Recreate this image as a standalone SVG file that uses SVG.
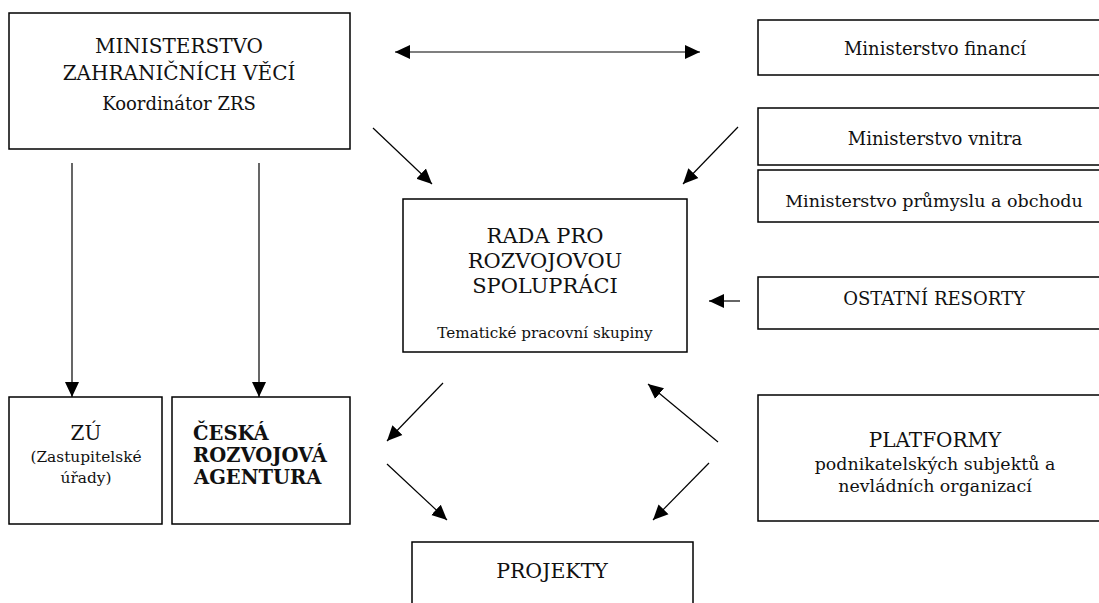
<svg xmlns="http://www.w3.org/2000/svg" width="1099" height="603" viewBox="0 0 1099 603">
<style>
.box{fill:#fff;stroke:#000;stroke-width:1.5}
.t{font-family:"DejaVu Serif","Liberation Serif",serif;fill:#111;text-anchor:middle}
.b{font-weight:bold}
.c{stroke:#000;stroke-width:1.2;fill:none}
</style>
<defs>
<marker id="ah" markerUnits="userSpaceOnUse" markerWidth="16" markerHeight="16" viewBox="0 0 16 16" refX="15" refY="8" orient="auto-start-reverse">
<path d="M0,1 L15,8 L0,15 Z" fill="#000"/>
</marker>
</defs>
<rect width="1099" height="603" fill="#fff"/>
<g id="mzv">
<rect class="box" x="9" y="13" width="341" height="136"/>
<text class="t" x="179" y="53" font-size="20">MINISTERSTVO</text>
<text class="t" x="179" y="80" font-size="20">ZAHRANIČNÍCH VĚCÍ</text>
<text class="t" x="179" y="110" font-size="18">Koordinátor ZRS</text>
</g>
<g id="mf">
<rect class="box" x="758" y="20" width="350" height="55"/>
<text class="t" x="935" y="55" font-size="18">Ministerstvo financí</text>
</g>
<g id="mv">
<rect class="box" x="758" y="108" width="350" height="57"/>
<text class="t" x="935" y="145" font-size="18">Ministerstvo vnitra</text>
</g>
<g id="mpo">
<rect class="box" x="758" y="170" width="350" height="52"/>
<text class="t" x="934" y="207" font-size="17.5">Ministerstvo průmyslu a obchodu</text>
</g>
<g id="rada">
<rect class="box" x="403" y="199" width="284" height="153"/>
<text class="t" x="545" y="243" font-size="21">RADA PRO</text>
<text class="t" x="545" y="268" font-size="21">ROZVOJOVOU</text>
<text class="t" x="545" y="293" font-size="21">SPOLUPRÁCI</text>
<text class="t" x="545" y="338" font-size="15.2">Tematické pracovní skupiny</text>
</g>
<g id="ostatni">
<rect class="box" x="758" y="277" width="350" height="52"/>
<text class="t" x="934" y="305" font-size="18">OSTATNÍ RESORTY</text>
</g>
<g id="platformy">
<rect class="box" x="758" y="395" width="350" height="126"/>
<text class="t" x="935" y="447" font-size="20">PLATFORMY</text>
<text class="t" x="935" y="470" font-size="17.4">podnikatelských subjektů a</text>
<text class="t" x="935" y="492" font-size="17.4">nevládních organizací</text>
</g>
<g id="zu">
<rect class="box" x="9" y="397" width="153" height="127"/>
<text class="t" x="86" y="440" font-size="20">ZÚ</text>
<text class="t" x="86" y="462" font-size="15.4">(Zastupitelské</text>
<text class="t" x="86" y="483" font-size="15.4">úřady)</text>
</g>
<g id="cra">
<rect class="box" x="172" y="397" width="178" height="127"/>
<text class="t b" x="193" y="440" font-size="19.5" style="text-anchor:start">ČESKÁ</text>
<text class="t b" x="193" y="462" font-size="19.5" style="text-anchor:start">ROZVOJOVÁ</text>
<text class="t b" x="194" y="484" font-size="19.5" style="text-anchor:start">AGENTURA</text>
</g>
<g id="projekty">
<rect class="box" x="412" y="542" width="281" height="80"/>
<text class="t" x="552" y="578" font-size="20.5">PROJEKTY</text>
</g>
<g id="connectors">
<line class="c" x1="395" y1="52" x2="700" y2="52" stroke-width="1.5" marker-start="url(#ah)" marker-end="url(#ah)"/>
<line class="c" x1="373" y1="128" x2="432" y2="184" marker-end="url(#ah)"/>
<line class="c" x1="738" y1="127" x2="683" y2="184" marker-end="url(#ah)"/>
<line class="c" x1="72" y1="163" x2="72" y2="397" stroke-width="2" marker-end="url(#ah)"/>
<line class="c" x1="259" y1="163" x2="259" y2="397" stroke-width="2" marker-end="url(#ah)"/>
<line class="c" x1="740" y1="301" x2="709" y2="301" stroke-width="1.5" marker-end="url(#ah)"/>
<line class="c" x1="443" y1="383" x2="387" y2="441" marker-end="url(#ah)"/>
<line class="c" x1="387" y1="464" x2="447" y2="520" marker-end="url(#ah)"/>
<line class="c" x1="718" y1="442" x2="648" y2="384" stroke-width="1.8" marker-end="url(#ah)"/>
<line class="c" x1="709" y1="463" x2="653" y2="520" marker-end="url(#ah)"/>
</g>
</svg>
